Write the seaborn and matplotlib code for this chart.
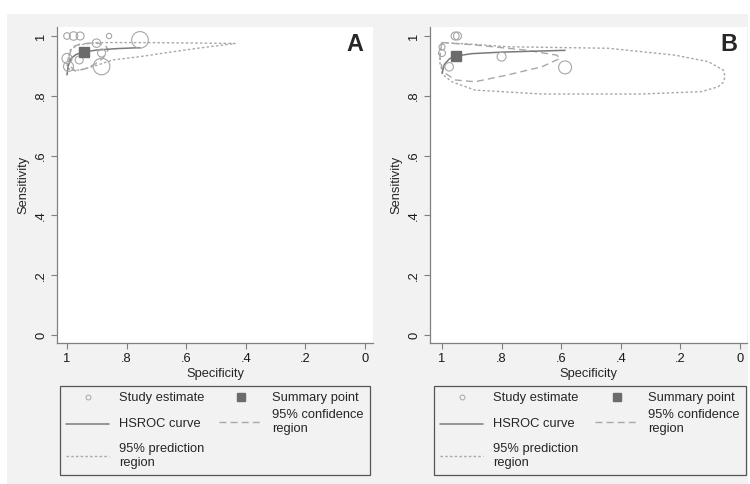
import numpy as np
import matplotlib
matplotlib.use("Agg")
import matplotlib.pyplot as plt
import seaborn as sns
from matplotlib.lines import Line2D
from matplotlib.patches import Rectangle

# ---- data -------------------------------------------------------------
# Panel A
study_spec_a = [1.000, 0.978, 0.956, 0.859, 0.755, 0.901, 0.884, 1.000, 0.995, 0.959, 0.884]
study_sens_a = [1.000, 1.000, 1.000, 1.000, 0.987, 0.976, 0.943, 0.925, 0.898, 0.920, 0.898]
study_wt_a = [11, 18, 16, 7, 69, 18, 16, 25, 25, 16, 69]
summary_a = (0.942, 0.945)
hsroc_spec_a = [1.000, 0.996, 0.986, 0.970, 0.942, 0.900, 0.830, 0.755]
hsroc_sens_a = [0.870, 0.900, 0.925, 0.938, 0.947, 0.953, 0.958, 0.961]
conf_spec_a = [0.993, 0.983, 0.956, 0.906, 0.872, 0.862, 0.879, 0.906, 0.940, 0.973, 0.990, 0.993]
conf_sens_a = [0.933, 0.963, 0.973, 0.978, 0.970, 0.953, 0.926, 0.906, 0.890, 0.883, 0.900, 0.933]
pred_spec_a = [0.997, 0.990, 0.963, 0.899, 0.755, 0.621, 0.436, 0.554, 0.654, 0.755,
               0.846, 0.906, 0.956, 0.990, 1.000, 0.997]
pred_sens_a = [0.920, 0.953, 0.970, 0.978, 0.978, 0.977, 0.975, 0.960, 0.946, 0.931,
               0.920, 0.900, 0.886, 0.886, 0.900, 0.920]

# Panel B
study_spec_b = [0.956, 0.948, 1.000, 1.000, 0.976, 0.800, 0.587]
study_sens_b = [1.000, 1.000, 0.963, 0.943, 0.897, 0.931, 0.895]
study_wt_b = [16, 16, 9, 12, 18, 20, 42]
summary_b = (0.953, 0.933)
hsroc_spec_b = [1.000, 0.992, 0.975, 0.953, 0.900, 0.800, 0.700, 0.587]
hsroc_sens_b = [0.875, 0.905, 0.924, 0.933, 0.941, 0.946, 0.949, 0.952]
conf_spec_b = [1.001, 0.889, 0.721, 0.615, 0.604, 0.665, 0.779, 0.889, 0.956, 0.997, 1.007, 1.001]
conf_sens_b = [0.978, 0.970, 0.953, 0.936, 0.925, 0.897, 0.870, 0.847, 0.853, 0.881, 0.926, 0.978]
pred_spec_b = [1.001, 0.889, 0.779, 0.443, 0.218, 0.106, 0.056, 0.050, 0.056, 0.074, 0.129,
               0.330, 0.665, 0.889, 0.967, 0.996, 1.007, 1.007, 1.001]
pred_sens_b = [0.978, 0.972, 0.964, 0.959, 0.936, 0.914, 0.886, 0.864, 0.845, 0.830, 0.814,
               0.806, 0.806, 0.819, 0.847, 0.870, 0.909, 0.953, 0.978]

tick_vals = [0, 0.2, 0.4, 0.6, 0.8, 1]
tick_labels = ["0", ".2", ".4", ".6", ".8", "1"]

# ---- style ------------------------------------------------------------
sns.set_style("ticks")
plt.rcParams["font.family"] = ["Liberation Sans", "DejaVu Sans"]
FS = 9.3
BG = "#f2f2f2"
AXC = "#808080"
CIRC = "#a6a6a6"
SQ = "#6b6b6b"
HS = "#7a7a7a"
REG = "#a8a8a8"
CONF_LS = (0, (5, 3))
PRED_LS = (0, (1.8, 1.6))

W, H = 750, 484
fig = plt.figure(figsize=(7.5, 4.84), dpi=100, facecolor="white")
fig.patches.append(Rectangle((7 / W, 0), 741 / W, 470 / H, transform=fig.transFigure,
                             facecolor=BG, edgecolor="none", zorder=-10))

panels = [
    dict(left=57, right=373, x1=67, x0=365, tag="A",
         s_spec=study_spec_a, s_sens=study_sens_a, s_wt=study_wt_a, summ=summary_a,
         h_spec=hsroc_spec_a, h_sens=hsroc_sens_a, c_spec=conf_spec_a, c_sens=conf_sens_a,
         p_spec=pred_spec_a, p_sens=pred_sens_a, leg=(60, 370)),
    dict(left=430, right=747, x1=442, x0=740, tag="B",
         s_spec=study_spec_b, s_sens=study_sens_b, s_wt=study_wt_b, summ=summary_b,
         h_spec=hsroc_spec_b, h_sens=hsroc_sens_b, c_spec=conf_spec_b, c_sens=conf_sens_b,
         p_spec=pred_spec_b, p_sens=pred_sens_b, leg=(434, 746)),
]

top, bottom = 27, 343
y1, y0 = 36, 335

for p in panels:
    ax = fig.add_axes([p["left"] / W, 1 - bottom / H, (p["right"] - p["left"]) / W, (bottom - top) / H])
    ax.set_facecolor("white")

    sns.lineplot(x=p["p_spec"], y=p["p_sens"], sort=False, estimator=None, ax=ax,
                 color=REG, lw=1.0, linestyle=PRED_LS)
    sns.lineplot(x=p["c_spec"], y=p["c_sens"], sort=False, estimator=None, ax=ax,
                 color=REG, lw=1.0, linestyle=CONF_LS)
    sns.lineplot(x=p["h_spec"], y=p["h_sens"], sort=False, estimator=None, ax=ax,
                 color=HS, lw=1.1)
    sns.scatterplot(x=p["s_spec"], y=p["s_sens"], ax=ax, s=np.array(p["s_wt"]) * 2.07,
                    color=CIRC, facecolor="none", edgecolor=CIRC, linewidth=0.8, zorder=3)
    ax.plot([p["summ"][0]], [p["summ"][1]], marker="s", ms=6.5, color=SQ, ls="none", zorder=4)

    ax.set_xticks(tick_vals)
    ax.set_xticklabels(tick_labels, fontsize=FS, color="#1a1a1a")
    ax.set_yticks(tick_vals)
    ax.set_yticklabels(tick_labels, fontsize=FS, color="#1a1a1a", rotation=90, va="center")

    # pixel -> data mapping of the plot region
    sx = p["x0"] - p["x1"]
    ax.set_xlim(1 + (p["x1"] - p["left"]) / sx, -(p["right"] - p["x0"]) / sx)
    sy = y0 - y1
    ax.set_ylim(-(bottom - y0) / sy, 1 + (y1 - top) / sy)

    for side in ["top", "right"]:
        ax.spines[side].set_visible(False)
    for side in ["left", "bottom"]:
        ax.spines[side].set_color(AXC)
        ax.spines[side].set_linewidth(0.9)

    ax.tick_params(axis="both", length=4, width=0.8, color=AXC)
    ax.tick_params(axis="x", pad=3)
    ax.tick_params(axis="y", pad=3)
    ax.set_xlabel("Specificity", fontsize=FS, labelpad=2.5)
    ax.set_ylabel("Sensitivity", fontsize=FS, labelpad=4)

    ax.text((p["right"] - p["left"] - 18) / (p["right"] - p["left"]), 0.946, p["tag"],
            transform=ax.transAxes, ha="center", va="center", fontsize=16.8, fontweight="bold")

    handles = [
        Line2D([], [], ls="none", marker="o", ms=3.5, mfc="none", mec=CIRC, mew=0.7),
        Line2D([], [], color=HS, lw=1.1),
        Line2D([], [], color=REG, lw=1.0, linestyle=PRED_LS),
        Line2D([], [], ls="none", marker="s", ms=6, color=SQ),
        Line2D([], [], color=REG, lw=1.0, linestyle=CONF_LS),
    ]
    labels = ["Study estimate", "\nHSROC curve\n", "95% prediction\nregion",
              "Summary point", "95% confidence\nregion"]
    lx0, lx1 = p["leg"]
    leg = ax.legend(handles, labels, ncol=2, mode="expand", loc="upper left",
                    bbox_to_anchor=(lx0 / W, 1 - 386 / H, (lx1 - lx0) / W, 0),
                    bbox_transform=fig.transFigure, borderaxespad=0, fontsize=FS,
                    handlelength=3.33, handletextpad=0.77, labelspacing=0.38,
                    borderpad=0.5, fancybox=False, framealpha=1)
    leg.get_texts()[1].set_linespacing(0.6)
    fr = leg.get_frame()
    fr.set_facecolor(BG)
    fr.set_edgecolor("#555555")
    fr.set_linewidth(0.9)

fig.savefig("out.png", dpi=100, facecolor="white")
